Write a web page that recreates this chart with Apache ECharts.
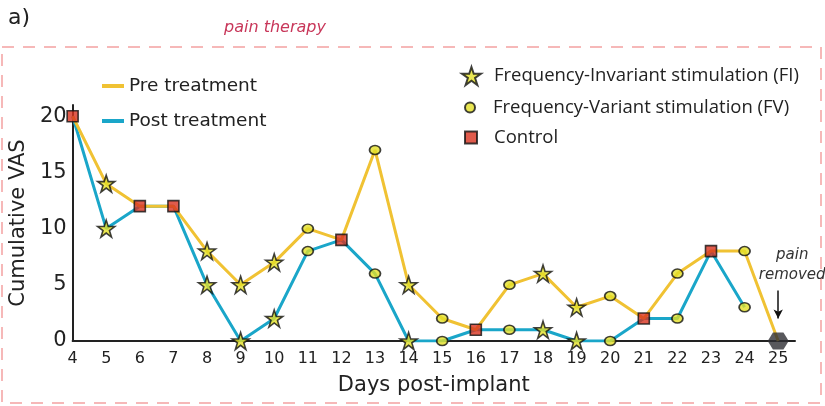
<!DOCTYPE html>
<html>
<head>
<meta charset="utf-8">
<script src="https://cdn.jsdelivr.net/npm/echarts@6/dist/echarts.min.js"></script>
<style>
    html, body { margin: 0; padding: 0; background: #fff; }
    #chart { width: 825px; height: 406px; }
</style>
</head>
<body>
<div id="chart"></div>
<script>
// days post-implant
const days = [4, 5, 6, 7, 8, 9, 10, 11, 12, 13, 14, 15, 16, 17, 18, 19, 20, 21, 22, 23, 24, 25];
const preTreatment = [20, 14, 12, 12, 8, 5, 7, 10, 9, 17, 5, 2, 1, 5, 6, 3, 4, 2, 6, 8, 8, 0];
const postTreatment = [20, 10, 12, 12, 5, 0, 2, 8, 9, 6, 0, 0, 1, 1, 1, 0, 0, 2, 2, 8, 3, null];
// FI = frequency-invariant, FV = frequency-variant, C = control, X = pain removed
const stimType = ['C', 'FI', 'C', 'C', 'FI', 'FI', 'FI', 'FV', 'C', 'FV', 'FI', 'FV', 'C', 'FV', 'FI', 'FI', 'FV', 'C', 'FV', 'C', 'FV', 'X'];
const yTicks = [0, 5, 10, 15, 20];

const STAR = 'path://M50,0 L62,36 L100,36 L69,58 L81,95 L50,72 L19,95 L31,58 L0,36 L38,36 Z';
const HEX = 'path://M25,0 L75,0 L100,50 L75,100 L25,100 L0,50 Z';
const YELLOW = '#f0c233';
const BLUE = '#1aa6c9';

function points(type) {
    const out = [];
    days.forEach((d, i) => {
        if (stimType[i] !== type) return;
        if (postTreatment[i] != null && postTreatment[i] !== preTreatment[i]) out.push([d, postTreatment[i]]);
        out.push([d, preTreatment[i]]);
    });
    return out;
}

const markerText = { fontFamily: 'Open Sans', fontSize: 18.5, color: '#222' };

const chart = echarts.init(document.getElementById('chart'));
chart.setOption({
    animation: false,
    graphic: [
        {
            type: 'rect',
            shape: { x: 2, y: 47, width: 819, height: 356 },
            style: { fill: 'none', stroke: '#f6b8b8', lineWidth: 2, lineDash: [12, 9] },
            z: -1,
        },
        { type: 'text', left: 8, top: 7, style: { text: 'a)', font: '22px DejaVu Sans', fill: '#222' } },
        {
            type: 'text', left: 224, top: 20,
            style: { text: 'pain therapy', font: 'italic 16px DejaVu Sans', fill: '#c8375a' },
        },
    ],
    grid: { left: 66, right: 30, top: 105, bottom: 65 },
    legend: [
        {
            data: [
                { name: 'Pre treatment', icon: 'rect' },
                { name: 'Post treatment', icon: 'rect' },
            ],
            orient: 'vertical',
            padding: 0,
            left: 102,
            top: 75,
            itemWidth: 22,
            itemHeight: 4,
            itemGap: 13,
            textStyle: { fontFamily: 'DejaVu Sans', fontSize: 18.5, color: '#222', lineHeight: 22 },
        },
        {
            data: [{ name: 'Frequency-Invariant stimulation (FI)', icon: STAR }],
            padding: 0, left: 461, top: 66, itemWidth: 19, itemHeight: 18,
            textStyle: Object.assign({ padding: [0, 0, 0, 8] }, markerText),
        },
        {
            data: [{ name: 'Frequency-Variant stimulation (FV)', icon: 'circle' }],
            padding: 0, left: 464, top: 98, itemWidth: 12, itemHeight: 10,
            textStyle: Object.assign({ padding: [0, 0, 0, 12] }, markerText),
        },
        {
            data: [{ name: 'Control', icon: 'rect' }],
            padding: 0, left: 464, top: 128, itemWidth: 12, itemHeight: 12,
            textStyle: Object.assign({ padding: [0, 0, 0, 12] }, markerText),
        },
    ],
    xAxis: {
        type: 'value',
        min: 4,
        max: 25.5,
        interval: 1,
        name: 'Days post-implant',
        nameLocation: 'middle',
        nameGap: 34,
        nameTextStyle: { fontFamily: 'DejaVu Sans', fontSize: 21, color: '#222' },
        axisLine: { lineStyle: { color: '#222', width: 2 } },
        axisTick: { show: false },
        splitLine: { show: false },
        axisLabel: {
            fontFamily: 'DejaVu Sans', fontSize: 16, color: '#222', margin: 10,
            formatter: v => (Number.isInteger(v) ? String(v) : ''),
        },
    },
    yAxis: {
        type: 'value',
        min: 0,
        max: 21,
        interval: 5,
        name: 'Cumulative VAS',
        nameLocation: 'middle',
        nameGap: 38,
        nameTextStyle: { fontFamily: 'DejaVu Sans', fontSize: 21, color: '#222' },
        axisLine: { show: true, lineStyle: { color: '#222', width: 2 } },
        axisTick: { show: false },
        splitLine: { show: false },
        axisLabel: {
            fontFamily: 'DejaVu Sans', fontSize: 21, color: '#222', margin: 6,
            formatter: v => (yTicks.includes(v) ? String(v) : ''),
        },
    },
    series: [
        {
            name: 'Pre treatment',
            type: 'line',
            data: days.map((d, i) => [d, preTreatment[i]]),
            showSymbol: false,
            color: YELLOW,
            lineStyle: { width: 3, color: YELLOW },
            z: 2,
        },
        {
            name: 'Post treatment',
            type: 'line',
            data: days.map((d, i) => [d, postTreatment[i]]),
            showSymbol: false,
            color: BLUE,
            lineStyle: { width: 3, color: BLUE },
            z: 1,
        },
        {
            name: 'Frequency-Invariant stimulation (FI)',
            type: 'scatter',
            data: points('FI'),
            symbol: STAR,
            symbolSize: 17,
            itemStyle: { color: '#e3e027', borderColor: '#111', borderWidth: 1.6 },
            z: 4,
        },
        {
            name: 'Frequency-Variant stimulation (FV)',
            type: 'scatter',
            data: points('FV'),
            symbol: 'circle',
            symbolSize: [11, 9],
            itemStyle: { color: '#e3e027', borderColor: '#111', borderWidth: 1.6 },
            z: 4,
        },
        {
            name: 'Control',
            type: 'scatter',
            data: points('C'),
            symbol: 'rect',
            symbolSize: 11,
            itemStyle: { color: '#d8321f', borderColor: '#111', borderWidth: 1.6 },
            z: 4,
        },
        {
            name: 'Pain removed',
            type: 'scatter',
            data: points('X'),
            symbol: HEX,
            symbolSize: [21, 17],
            itemStyle: { color: '#2e2e33' },
            z: 4,
            markLine: {
                silent: true,
                symbol: ['none', 'arrow'],
                symbolSize: [7, 9],
                lineStyle: { color: '#111', width: 1.5, type: 'solid' },
                label: {
                    position: 'start',
                    formatter: 'pain\nremoved',
                    fontFamily: 'DejaVu Sans',
                    fontStyle: 'italic',
                    fontSize: 15,
                    lineHeight: 20,
                    color: '#333',
                    offset: [14, 0],
                },
                data: [[{ coord: [25, 4.5] }, { coord: [25, 2.0] }]],
            },
        },
    ],
});
</script>
</body>
</html>
